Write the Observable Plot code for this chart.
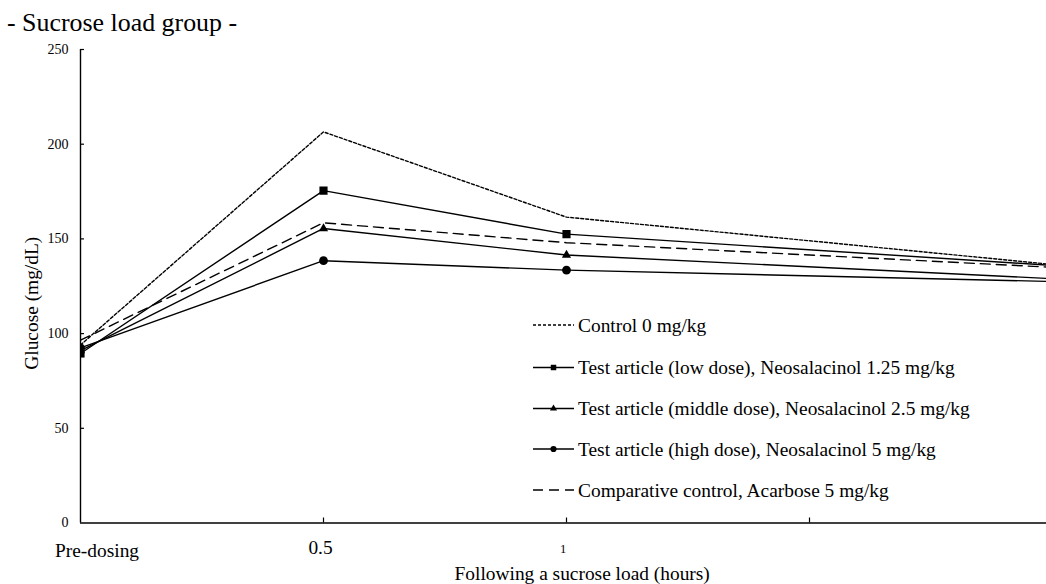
<!DOCTYPE html>
<html>
<head>
<meta charset="utf-8">
<script src="https://cdn.jsdelivr.net/npm/d3@7"></script>
<script src="https://cdn.jsdelivr.net/npm/@observablehq/plot@0.6"></script>
<style>
  body { margin: 0; background: #fff; }
  #wrap { position: relative; width: 1046px; height: 584px; overflow: hidden; background: #fff; }
  #overlay { position: absolute; left: 0; top: 0; pointer-events: none; }
</style>
</head>
<body>
<div id="wrap"></div>
<script>
// ---- data ----
const titleText = "- Sucrose load group -";
const yTitle = "Glucose (mg/dL)";
const xTitle = "Following a sucrose load (hours)";
const times = [0, 0.5, 1, 2];                 // hours (0 = pre-dosing)
const xTickValues = [0.5, 1, 1.5];
const xTickLabels = [{t: 0, label: "Pre-dosing"}, {t: 0.5, label: "0.5"}];
const xSmallLabels = [{t: 1, label: "1"}];
const yTicks = [0, 50, 100, 150, 200, 250];

const control  = [94, 206.5, 161.5, 136.5];
const lowDose  = [89.5, 175.5, 152.5, 136];
const midDose  = [91, 155.5, 141.5, 129];
const highDose = [92.5, 138.5, 133.5, 127.5];
const acarbose = [96.5, 158.5, 148, 135];

const seriesNames = [
  "Control 0 mg/kg",
  "Test article (low dose), Neosalacinol 1.25 mg/kg",
  "Test article (middle dose), Neosalacinol 2.5 mg/kg",
  "Test article (high dose), Neosalacinol 5 mg/kg",
  "Comparative control, Acarbose 5 mg/kg"
];

// ---- styles ----
const FONT = "'Liberation Serif', 'Times New Roman', serif";
const styles = [
  {dash: "3,2", symbol: null},
  {dash: null, symbol: "square"},
  {dash: null, symbol: "triangle"},
  {dash: null, symbol: "circle"},
  {dash: "10,6", symbol: null}
];
const seriesValues = [control, lowDose, midDose, highDose, acarbose];
const rowsOf = (vals) => vals.map((v, i) => ({t: times[i], v}));

const W = 1046, H = 584, mL = 80, mR = 0, mT = 49, mB = 61.5;
const frameW = W - mL - mR, frameH = H - mT - mB;

const marks = [];
// lines
seriesValues.forEach((vals, i) => {
  marks.push(Plot.line(rowsOf(vals), {
    x: "t", y: "v", stroke: "#000", strokeWidth: 1.4,
    strokeDasharray: styles[i].dash, clip: true
  }));
});
// markers (circles, triangles, then squares on top)
const symR = {square: 4.6, triangle: 3.4, circle: 4.4};
[3, 2, 1].forEach(i => {
  marks.push(Plot.dot(rowsOf(seriesValues[i]), {
    x: "t", y: "v", symbol: styles[i].symbol, r: symR[styles[i].symbol],
    fill: "#000", stroke: "none", clip: true
  }));
});
// axes lines
marks.push(Plot.ruleX([0], {stroke: "#000", strokeWidth: 1.4}));
marks.push(Plot.ruleY([0], {stroke: "#000", strokeWidth: 1.4}));
// inward ticks
marks.push(Plot.ruleY(yTicks.filter(d => d > 0), {stroke: "#000", strokeWidth: 1.2, insetRight: frameW - 4}));
marks.push(Plot.ruleX(xTickValues, {stroke: "#000", strokeWidth: 1.2, insetTop: frameH - 5}));
// y tick labels
marks.push(Plot.axisY({ticks: yTicks, tickSize: 0, tickPadding: 12, fontSize: 14, label: null, tickFormat: d => String(d)}));
// x labels
marks.push(Plot.text(xTickLabels.slice(0, 1), {x: "t", y: () => 0, text: "label", textAnchor: "start", lineAnchor: "bottom", dx: -25.5, dy: 34, fontSize: 19.4, fill: "#000"}));
marks.push(Plot.text(xTickLabels.slice(1), {x: "t", y: () => 0, text: "label", textAnchor: "middle", lineAnchor: "bottom", dx: -3, dy: 31, fontSize: 19.4, fill: "#000"}));
marks.push(Plot.text(xSmallLabels, {x: "t", y: () => 0, text: "label", textAnchor: "middle", lineAnchor: "bottom", dx: -3.5, dy: 30, fontSize: 12.5, fill: "#000"}));
// axis titles
marks.push(Plot.text([xTitle], {frameAnchor: "bottom", text: d => d, textAnchor: "middle", lineAnchor: "bottom", dx: 18.7, dy: 56.5, fontSize: 19.4, fill: "#000"}));
marks.push(Plot.text([yTitle], {frameAnchor: "left", text: d => d, rotate: -90, textAnchor: "middle", lineAnchor: "bottom", dx: -42.5, dy: 17, fontSize: 19.4, fill: "#000"}));

const chart = Plot.plot({
  width: W, height: H,
  marginLeft: mL, marginRight: mR, marginTop: mT, marginBottom: mB,
  x: {domain: [0, (W - mL) / (2 * 243) ], axis: null},
  y: {domain: [0, 250], axis: null},
  style: {fontFamily: FONT, background: "#fff", color: "#000", overflow: "hidden"},
  marks
});
document.getElementById("wrap").appendChild(chart);

// ---- overlay: title and legend ----
const svg = d3.select("#wrap").append("svg")
  .attr("id", "overlay").attr("width", W).attr("height", H)
  .style("font-family", FONT);

svg.append("text").attr("x", 7).attr("y", 31).attr("font-size", 25.9).attr("fill", "#000").text(titleText);

const legRows = [325, 367.5, 408.5, 449, 490];
const legSym = {square: 30, triangle: 22, circle: 30};
seriesNames.forEach((name, i) => {
  const y = legRows[i];
  const g = svg.append("g");
  g.append("line").attr("x1", 533).attr("x2", 574).attr("y1", y).attr("y2", y)
    .attr("stroke", "#000").attr("stroke-width", 1.4)
    .attr("stroke-dasharray", styles[i].dash || null);
  if (styles[i].symbol) {
    const type = {square: d3.symbolSquare, triangle: d3.symbolTriangle, circle: d3.symbolCircle}[styles[i].symbol];
    g.append("path").attr("transform", `translate(553.5,${y})`)
      .attr("d", d3.symbol(type, legSym[styles[i].symbol])()).attr("fill", "#000");
  }
  g.append("text").attr("x", 578).attr("y", y + 6.6).attr("font-size", 19.4).attr("fill", "#000").text(name);
});
</script>
</body>
</html>
